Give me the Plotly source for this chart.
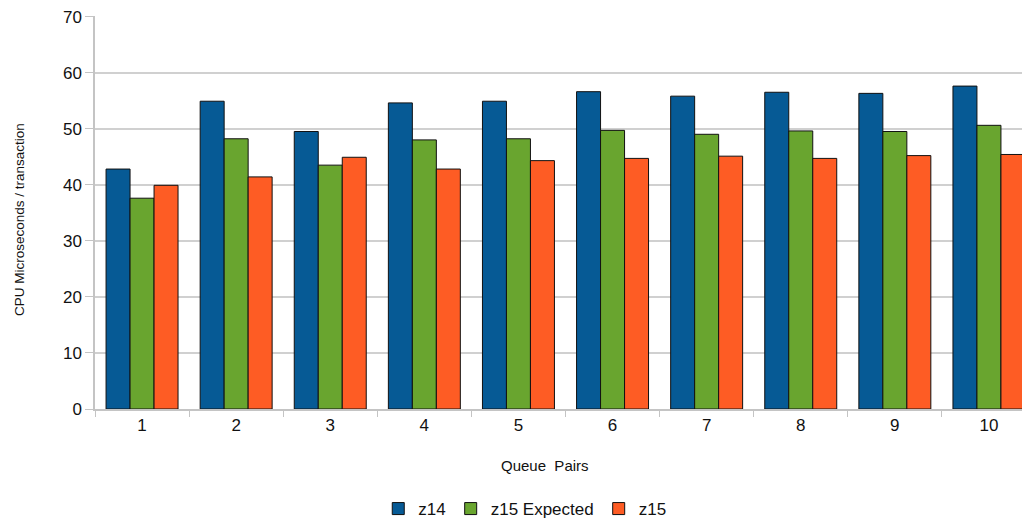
import plotly.graph_objects as go

categories = ["1", "2", "3", "4", "5", "6", "7", "8", "9", "10"]
z14 = [42.8, 54.9, 49.5, 54.6, 54.9, 56.6, 55.8, 56.5, 56.3, 57.6]
z15_expected = [37.6, 48.2, 43.5, 48.0, 48.2, 49.7, 49.0, 49.6, 49.5, 50.6]
z15 = [39.9, 41.4, 44.9, 42.8, 44.3, 44.7, 45.1, 44.7, 45.2, 45.4]

series = [
    ("z14", z14, "#065A95"),
    ("z15 Expected", z15_expected, "#69A52F"),
    ("z15", z15, "#FE5C24"),
]

fig = go.Figure()
for name, vals, color in series:
    fig.add_trace(go.Bar(
        x=categories, y=vals, name=name,
        marker=dict(color=color, line=dict(color="#111111", width=1)),
    ))

# page body has an 8px margin; margins compensate so the plot lands where the reference has it
fig.update_layout(
    width=1030, height=525,
    margin=dict(l=87, r=2, t=8, b=124, autoexpand=False),
    paper_bgcolor="white", plot_bgcolor="white",
    font=dict(family="Liberation Sans, Arial, sans-serif", color="#111111"),
    barmode="group", bargap=0.235, bargroupgap=0,
    showlegend=True,
    legend=dict(orientation="h", x=0.4567, xanchor="center", y=-0.2545, yanchor="middle",
                font=dict(size=17), itemwidth=30, traceorder="normal"),
    annotations=[
        dict(text="CPU Microseconds / transaction", xref="paper", yref="paper",
             x=-0.0797, y=0.481, xanchor="center", yanchor="middle", textangle=-90,
             showarrow=False, font=dict(size=13.5)),
        dict(text="Queue  Pairs", xref="paper", yref="paper",
             x=0.478, y=-0.1425, xanchor="center", yanchor="middle",
             showarrow=False, font=dict(size=15)),
    ],
)
fig.update_xaxes(
    type="category", range=[-0.5, 9.5], automargin=False,
    showline=True, linecolor="#c4c4c4", linewidth=1.5,
    ticks="outside", tickson="boundaries", ticklen=6, tickcolor="#c4c4c4",
    tickfont=dict(size=17),
    showgrid=False,
)
fig.update_yaxes(
    range=[0, 70.1], dtick=10, automargin=False,
    showline=True, linecolor="#c4c4c4", linewidth=1.5,
    ticks="outside", ticklen=8, tickcolor="#c4c4c4",
    tickfont=dict(size=17), ticklabeloverflow="allow",
    showgrid=True, gridcolor="#d0d0d0", gridwidth=1.5,
    zeroline=False,
)

fig.write_html("out.html")
